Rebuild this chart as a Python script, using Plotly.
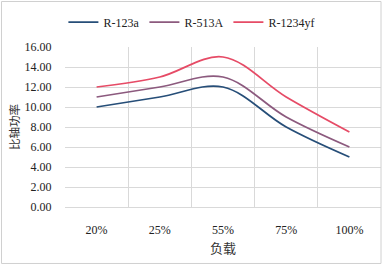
import plotly.graph_objects as go

categories = ["20%", "25%", "55%", "75%", "100%"]
r123a = [10.0, 11.0, 12.0, 8.0, 5.0]
r513a = [11.0, 12.0, 13.0, 9.0, 6.0]
r1234yf = [12.0, 13.0, 15.0, 11.0, 7.5]
y_ticks = [0, 2, 4, 6, 8, 10, 12, 14, 16]

series = [("R-123a", r123a, "#264E78"), ("R-513A", r513a, "#8C5A7E"), ("R-1234yf", r1234yf, "#E64B66")]

fig = go.Figure()
for name, vals, col in series:
    fig.add_trace(go.Scatter(x=categories, y=vals, name=name, mode="lines",
                             line=dict(color=col, width=1.75, shape="spline", smoothing=1.0)))

serif = "Liberation Serif, Times New Roman, serif"
cjk = "Noto Sans CJK SC"
fig.update_layout(
    width=384, height=266,
    margin=dict(l=65, r=3, t=47, b=59, autoexpand=False),
    paper_bgcolor="white", plot_bgcolor="white",
    font=dict(family=serif, size=12, color="#333333"),
    showlegend=True,
    legend=dict(orientation="h", x=0.40, xanchor="center", y=1.156, yanchor="middle",
                font=dict(family=serif, size=12, color="#222222"),
                itemwidth=30, traceorder="normal", bgcolor="rgba(0,0,0,0)"),
    xaxis=dict(type="category", range=[-0.5, 4.5], tickson="boundaries", automargin=False,
               showgrid=True, gridcolor="#D9D9D9", gridwidth=1,
               ticks="", ticklabelstandoff=14,
               tickfont=dict(family=serif, size=12, color="#222222"),
               showline=False, zeroline=False,
               title=dict(text="负载", font=dict(family=cjk, size=13, color="#333333"), standoff=7)),
    yaxis=dict(range=[0, 16], tickvals=y_ticks, tickformat=".2f", automargin=False,
               showgrid=True, gridcolor="#D9D9D9", gridwidth=1,
               zeroline=True, zerolinecolor="#D9D9D9", zerolinewidth=1,
               ticks="outside", ticklen=10, tickcolor="rgba(0,0,0,0)",
               tickfont=dict(family=serif, size=12, color="#222222"),
               title=dict(text="比轴功率", font=dict(family=cjk, size=11.5, color="#333333"), standoff=2)),
)
fig.add_shape(type="rect", xref="paper", yref="paper", x0=-0.2009, x1=1.0, y0=-0.353, y1=1.2844,
              line=dict(color="#D0D0D0", width=1), layer="above")
fig.write_html("out.html", config={"displayModeBar": False},
               post_script="document.body.style.margin='0';")
